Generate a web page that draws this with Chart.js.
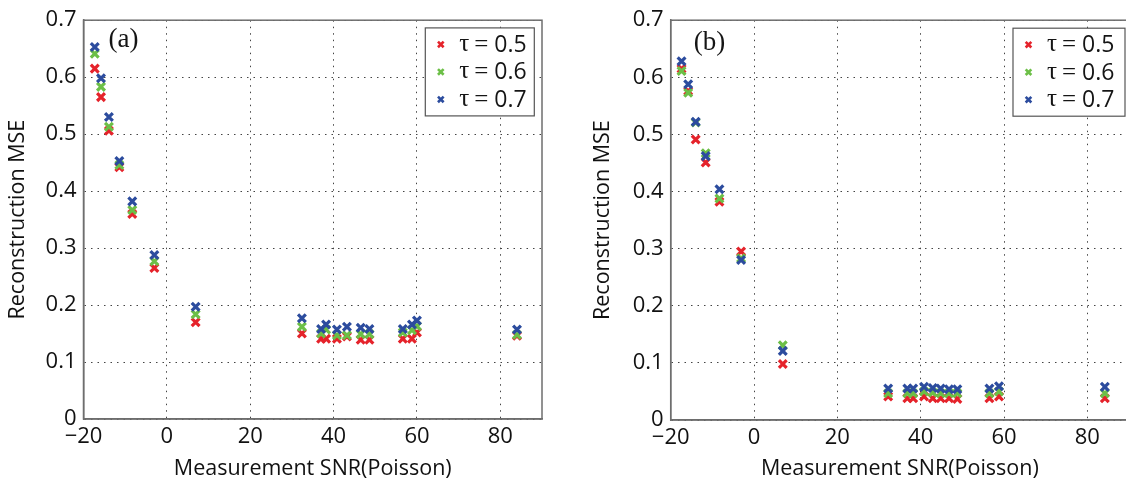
<!DOCTYPE html>
<html>
<head>
<meta charset="utf-8">
<script src="https://cdn.jsdelivr.net/npm/chart.js@4.4.1/dist/chart.umd.min.js"></script>
<style>
  html, body { margin: 0; padding: 0; background: #fff; width: 1126px; height: 491px; overflow: hidden; }
  .panel { position: absolute; top: 0; }
</style>
</head>
<body>
<div class="panel" style="left:0px"><canvas id="ca" width="560" height="491"></canvas></div>
<div class="panel" style="left:585px"><canvas id="cb" width="560" height="491"></canvas></div>
<script>
// ---------- data ----------
const tauLabels = ['0.5', '0.6', '0.7'];
const seriesColors = ['#e5232b', '#6cbf47', '#2c4c9e'];
const xTicks = [-20, 0, 20, 40, 60, 80];
const yTicks = [0, 0.1, 0.2, 0.3, 0.4, 0.5, 0.6, 0.7];

// panel (a)
const snrA = [-17.3, -15.8, -13.9, -11.4, -8.3, -3.0, 6.9, 32.4, 37.0, 38.2, 40.8, 43.2, 46.5, 48.6, 56.6, 58.8, 60.0, 84.0];
const mseA_tau05 = [0.615, 0.565, 0.506, 0.442, 0.360, 0.265, 0.170, 0.150, 0.141, 0.141, 0.141, 0.145, 0.139, 0.139, 0.141, 0.141, 0.152, 0.146];
const mseA_tau06 = [0.641, 0.583, 0.513, 0.446, 0.367, 0.277, 0.184, 0.162, 0.150, 0.157, 0.147, 0.147, 0.149, 0.149, 0.152, 0.156, 0.163, 0.148];
const mseA_tau07 = [0.653, 0.598, 0.530, 0.453, 0.382, 0.288, 0.197, 0.177, 0.158, 0.166, 0.157, 0.162, 0.160, 0.158, 0.158, 0.166, 0.173, 0.157];

// panel (b)
const snrB = [-17.4, -15.8, -14.0, -11.6, -8.3, -3.1, 6.9, 32.2, 36.8, 38.2, 40.8, 42.9, 44.8, 46.8, 48.8, 56.5, 58.8, 84.2];
const mseB_tau05 = [0.615, 0.576, 0.491, 0.451, 0.382, 0.295, 0.098, 0.041, 0.038, 0.038, 0.041, 0.038, 0.038, 0.038, 0.037, 0.038, 0.041, 0.038];
const mseB_tau06 = [0.611, 0.573, 0.521, 0.467, 0.388, 0.283, 0.131, 0.047, 0.047, 0.047, 0.050, 0.048, 0.047, 0.047, 0.047, 0.047, 0.050, 0.047];
const mseB_tau07 = [0.628, 0.588, 0.522, 0.462, 0.404, 0.280, 0.121, 0.055, 0.055, 0.055, 0.058, 0.056, 0.055, 0.054, 0.054, 0.055, 0.059, 0.058];

const xTitle = 'Measurement SNR(Poisson)';
const yTitle = 'Reconstruction MSE';

// ---------- helpers ----------
const SANS = '"Open Sans", "DejaVu Sans", sans-serif';
const SERIF = '"Liberation Serif", "DejaVu Serif", serif';

function makeDatasets(xs, ys) {
  return ys.map((arr, i) => ({
    label: 'τ = ' + tauLabels[i],
    data: xs.map((x, k) => ({ x: x, y: arr[k] })),
    order: ys.length - 1 - i,          // later series drawn on top (blue over green over red)
    pointStyle: 'crossRot',
    pointRadius: 5.5,
    pointHoverRadius: 5.5,
    pointBorderWidth: 3.2,
    borderColor: seriesColors[i],
    backgroundColor: seriesColors[i],
    showLine: false
  }));
}

const decorPlugin = {
  id: 'decor',
  afterDatasetsDraw(chart, args, o) {
    const { ctx, chartArea: ca } = chart;
    ctx.save();
    // frame
    ctx.strokeStyle = '#6e6e6e';
    ctx.lineWidth = 1.5;
    ctx.strokeRect(ca.left, ca.top, ca.right - ca.left, ca.bottom - ca.top);
    // panel tag
    ctx.fillStyle = '#151515';
    ctx.font = '27px ' + SERIF;
    ctx.textBaseline = 'middle';
    ctx.textAlign = 'left';
    ctx.fillText(o.tag, ca.left + o.tagDx, ca.top + o.tagDy);
    // legend
    const bw = o.boxW, bh = 88;
    const bx = ca.right - o.boxRight - bw;
    const by = ca.top + o.boxTop;
    ctx.fillStyle = '#fff';
    ctx.fillRect(bx, by, bw, bh);
    ctx.strokeStyle = '#555';
    ctx.lineWidth = 1.2;
    ctx.strokeRect(bx, by, bw, bh);
    const dsList = chart.data.datasets.slice().sort((a, b) => b.order - a.order);
    dsList.forEach((ds, i) => {
      const y = by + 16.5 + i * 27.5;
      ctx.strokeStyle = ds.borderColor;
      ctx.fillStyle = ds.borderColor;
      ctx.lineWidth = 2.6;
      Chart.helpers.drawPoint(ctx, { pointStyle: 'crossRot', radius: 4, borderWidth: 2.6, rotation: 0 }, bx + 15.5, y);
      ctx.fillStyle = '#151515';
      ctx.font = '25px ' + SERIF;
      ctx.fillText('τ', bx + 34, y);
      ctx.fillText('=', bx + 49, y + 1);
      ctx.font = '23px ' + SANS;
      ctx.fillText(tauLabels[i], bx + 69, y + 1);
    });
    ctx.restore();
  }
};

function makeChart(id, xs, ys, opts) {
  const fmtX = v => String(v).replace('-', '\u2212');
  const fmtY = v => (v === 0 ? '0' : Number(v).toFixed(1));
  return new Chart(document.getElementById(id), {
    type: 'scatter',
    data: { datasets: makeDatasets(xs, ys) },
    options: {
      responsive: false,
      animation: false,
      events: [],
      layout: { padding: { left: 0, right: opts.padRight, top: opts.padTop, bottom: 0 } },
      plugins: {
        legend: { display: false },
        tooltip: { enabled: false },
        decor: opts.decor
      },
      scales: {
        x: {
          type: 'linear',
          min: -20, max: 90,
          afterBuildTicks: s => { s.ticks = xTicks.map(v => ({ value: v })); },
          afterFit: s => { s.height = opts.xAxisH; },
          grid: { color: '#444', lineWidth: 1, drawTicks: false },
          border: { display: true, color: '#6e6e6e', width: 1.5, dash: [1.5, 5] },
          ticks: { color: '#111', font: { family: SANS, size: 22 }, padding: 5, maxRotation: 0, callback: fmtX },
          title: { display: true, text: xTitle, color: '#111', font: { family: SANS, size: 21.5 }, padding: { top: 0, bottom: 9 } }
        },
        y: {
          type: 'linear',
          min: 0, max: 0.7,
          afterBuildTicks: s => { s.ticks = yTicks.map(v => ({ value: v })); },
          afterFit: s => { s.width = opts.yAxisW; },
          grid: { color: '#444', lineWidth: 1, drawTicks: false },
          border: { display: true, color: '#6e6e6e', width: 1.5, dash: [1.5, 5] },
          ticks: { color: '#111', font: { family: SANS, size: 22 }, padding: 7, callback: fmtY },
          title: { display: true, text: yTitle, color: '#111', font: { family: SANS, size: 21.5 }, padding: { top: 5, bottom: 0 } }
        }
      }
    },
    plugins: [decorPlugin]
  });
}

makeChart('ca', snrA, [mseA_tau05, mseA_tau06, mseA_tau07], {
  padRight: 18, padTop: 19, xAxisH: 72, yAxisW: 83.5,
  decor: { tag: '(a)', tagDx: 25, tagDy: 20, boxW: 109, boxRight: 7.7, boxTop: 7.7 }
});
makeChart('cb', snrB, [mseB_tau05, mseB_tau06, mseB_tau07], {
  padRight: 16, padTop: 20, xAxisH: 71, yAxisW: 85.7,
  decor: { tag: '(b)', tagDx: 23, tagDy: 23, boxW: 112, boxRight: 4, boxTop: 8 }
});
</script>
</body>
</html>
